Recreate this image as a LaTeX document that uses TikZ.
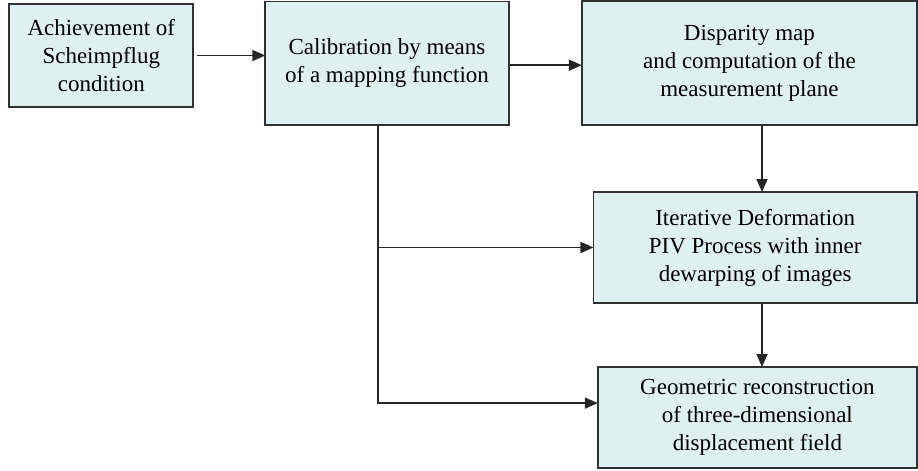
\documentclass[tikz,border=0pt]{standalone}
\definecolor{boxcyan}{RGB}{223, 240, 240}
\definecolor{boxline}{RGB}{50, 50, 50}
\usepackage{fontspec}
\setmainfont{Liberation Serif}
\usetikzlibrary{arrows.meta}
\tikzset{
  flowbox/.style={draw=boxline, fill=boxcyan, line width=0.9pt, align=center,
    inner sep=0pt, outer sep=0pt, font=\fontsize{11.5}{14}\selectfont},
  flowarrow/.style={-{Triangle[length=6.5pt,width=5.5pt]}, line width=0.9pt, black!85}
}

\begin{document}
\begin{tikzpicture}[x=0.5pt, y=-0.5pt]
            \useasboundingbox (0,0) rectangle (918,471);
            % Scheimpflug
            \node[flowbox, minimum width=92pt, minimum height=51.5pt] (scheim) at (101.3,55.5)
              {Achievement of\\Scheimpflug\\condition};
            
            % Calibration
            \node[flowbox, minimum width=121.7pt, minimum height=61.8pt] (calib) at (387,63.2)
              {Calibration by means\\of a mapping function};
            
            % Disparity map
            \node[flowbox, minimum width=167.6pt, minimum height=61.7pt] (disp) at (749.4,63)
              {Disparity map\\and computation of the\\measurement plane};
            
            % PIV
            \node[flowbox, minimum width=161.8pt, minimum height=55.5pt] (piv) at (755.2,247.5)
              {Iterative Deformation\\PIV Process with inner\\dewarping of images};
            
            % Reconstruction
            \node[flowbox, minimum width=159.6pt, minimum height=50.5pt] (recon) at (757.4,417.5)
              {Geometric reconstruction\\of three-dimensional\\displacement field};
            
            % Arrows
            \coordinate (trunk) at (378,0);
            \coordinate (right) at (762,0);
            \draw[flowarrow, shorten <=1.7pt] (scheim.east) -- (scheim.east -| calib.west);
            \draw[flowarrow] ([yshift=-1pt]calib.east) -- ([yshift=-1pt]calib.east -| disp.west);
            \draw[flowarrow] (right |- disp.south) -- (right |- piv.north);
            \draw[flowarrow] (right |- piv.south) -- (right |- recon.north);
            \draw[flowarrow] (trunk |- calib.south) |- ([yshift=7.2pt]recon.west);
            \draw[flowarrow] (trunk |- piv.west) -- (piv.west);
        \end{tikzpicture}
\end{document}
